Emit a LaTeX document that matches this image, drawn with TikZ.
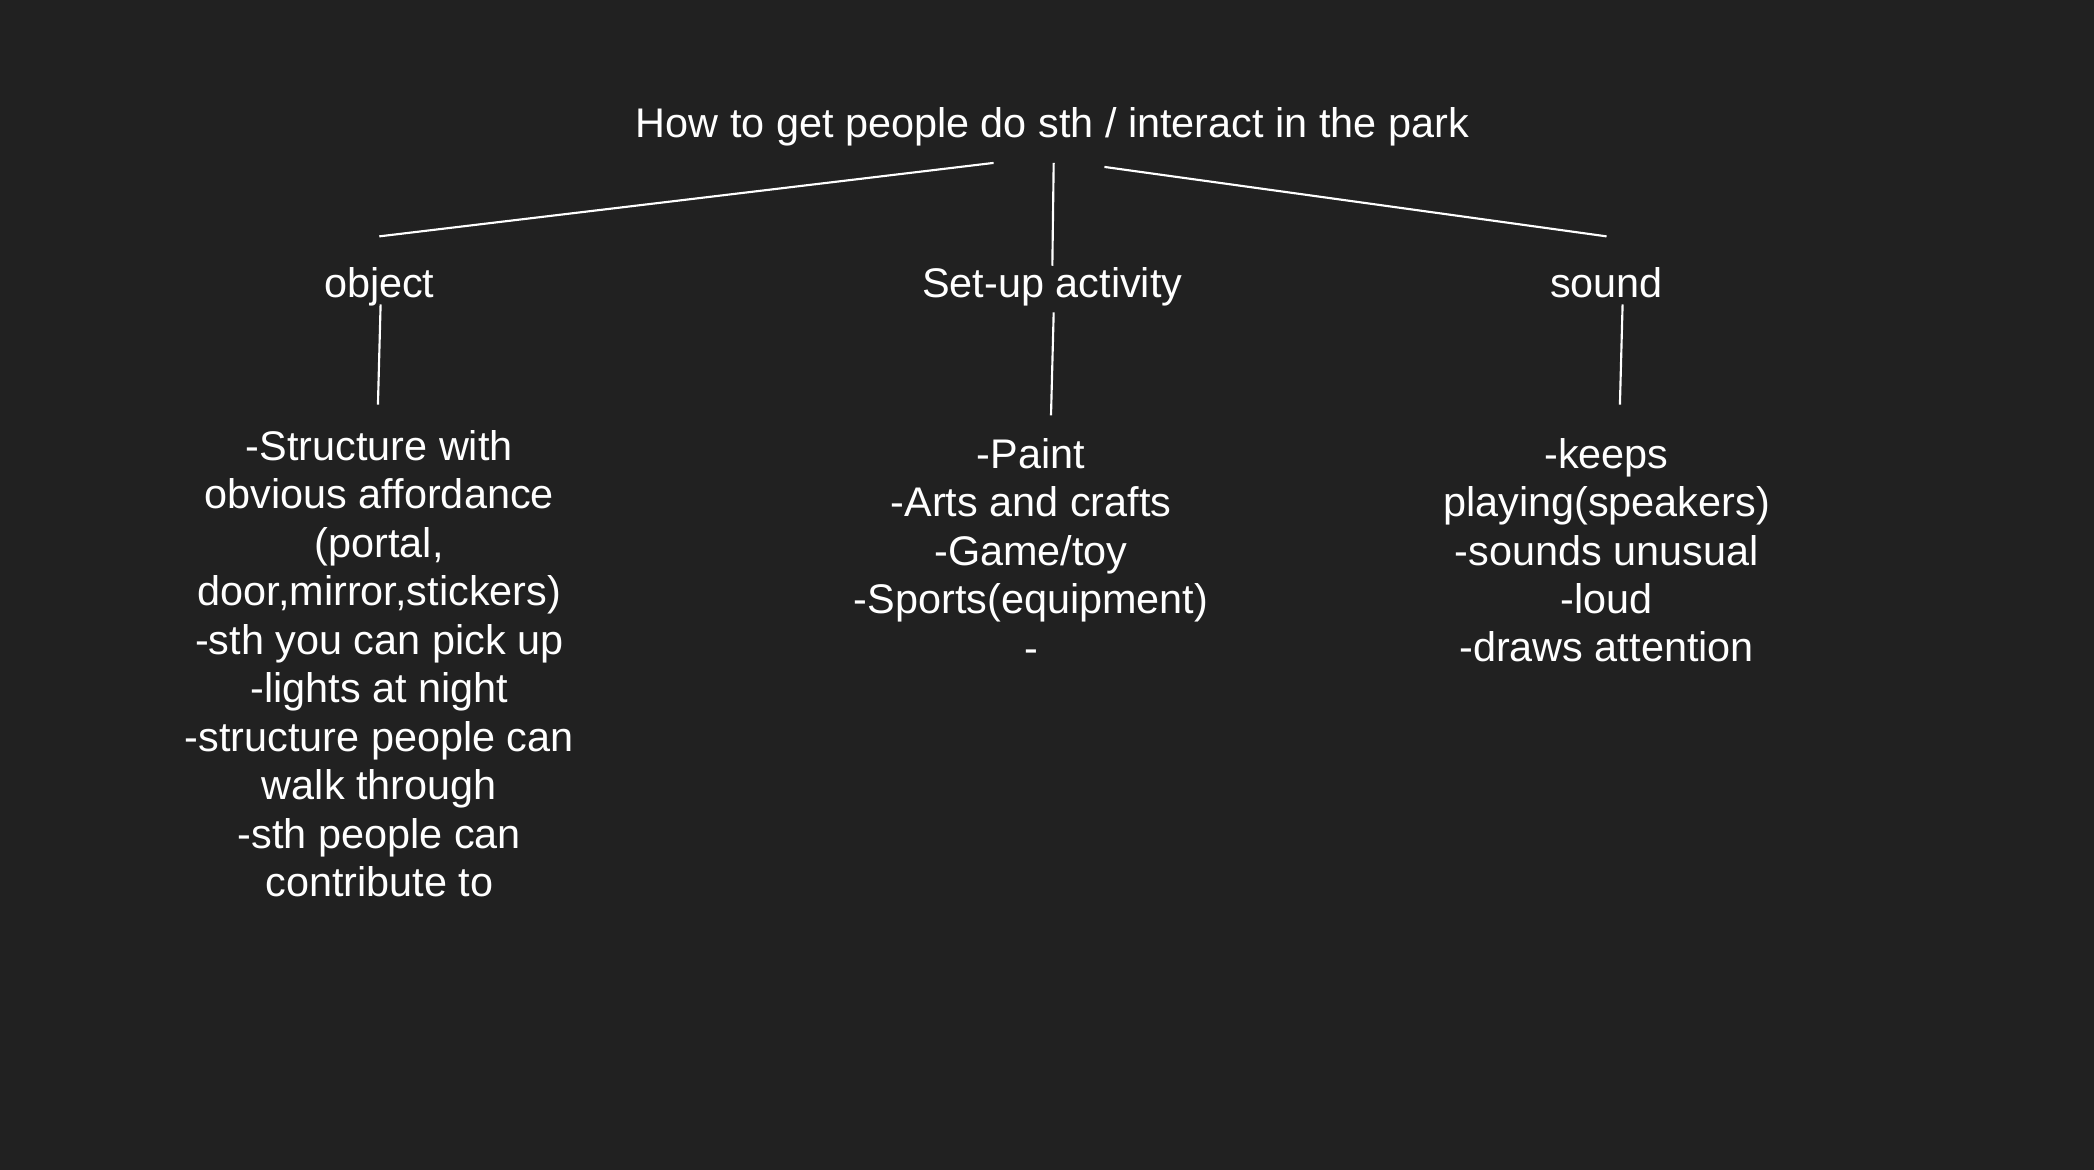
\documentclass[tikz,border=0pt]{standalone}
\usepackage{fontspec}
\setmainfont{Liberation Sans}
\usetikzlibrary{positioning}
\definecolor{bgdark}{HTML}{212121}

\tikzset{
  idea/.style={text=white, align=center, inner sep=0pt,
    font=\fontsize{15.5}{18.15}\selectfont},
  heading/.style={idea, text height=11pt, text depth=3pt},
  branch/.style={draw=white, line width=0.8pt}
}

\begin{document}
\begin{tikzpicture}[node distance=2cm, on grid]
      \fill[bgdark] (0,0) rectangle (784pt,-438pt);

      \node[heading] (root) at (394pt,-47.5pt) {How to get people do sth / interact in the park};
      \node[heading] (obj) at (142pt,-107.5pt) {object};
      \node[heading] (act) [right=252pt of obj] {Set-up activity};
      \node[heading] (snd) [right=207.5pt of act] {sound};

      \node[idea] (objlist) [below=141pt of obj] {-Structure with\\obvious affordance\\(portal,\\door,mirror,stickers)\\-sth you can pick up\\-lights at night\\-structure people can\\walk through\\-sth people can\\contribute to};
      \node[idea] (actlist) [below left=98.5pt and 8pt of act] {-Paint\\-Arts and crafts\\-Game/toy\\-Sports(equipment)\\-};
      \node[idea] (sndlist) [below=98.5pt of snd] {-keeps\\playing(speakers)\\-sounds unusual\\-loud\\-draws attention};

      % end points of the branches
      \coordinate (root-l) at (372pt,-61pt);
      \coordinate (root-m) at (394.5pt,-61pt);
      \coordinate (root-r) at (413.5pt,-62.5pt);
      \coordinate (obj-in) at (142pt,-88.5pt);
      \coordinate (act-in) at (394pt,-99.5pt);
      \coordinate (snd-in) at (601.5pt,-88.5pt);
      \coordinate (obj-out) at (142.5pt,-114pt);
      \coordinate (act-out) at (394.5pt,-117pt);
      \coordinate (snd-out) at (607.5pt,-114pt);
      \coordinate (objlist-in) at (141.5pt,-151.5pt);
      \coordinate (actlist-in) at (393.5pt,-155.5pt);
      \coordinate (sndlist-in) at (606.5pt,-151.5pt);

      \path[branch] (root-l) -- (obj-in)
                    (root-m) -- (act-in)
                    (root-r) -- (snd-in);
      \path[branch] (obj-out) -- (objlist-in)
                    (act-out) -- (actlist-in)
                    (snd-out) -- (sndlist-in);
\end{tikzpicture}
\end{document}
